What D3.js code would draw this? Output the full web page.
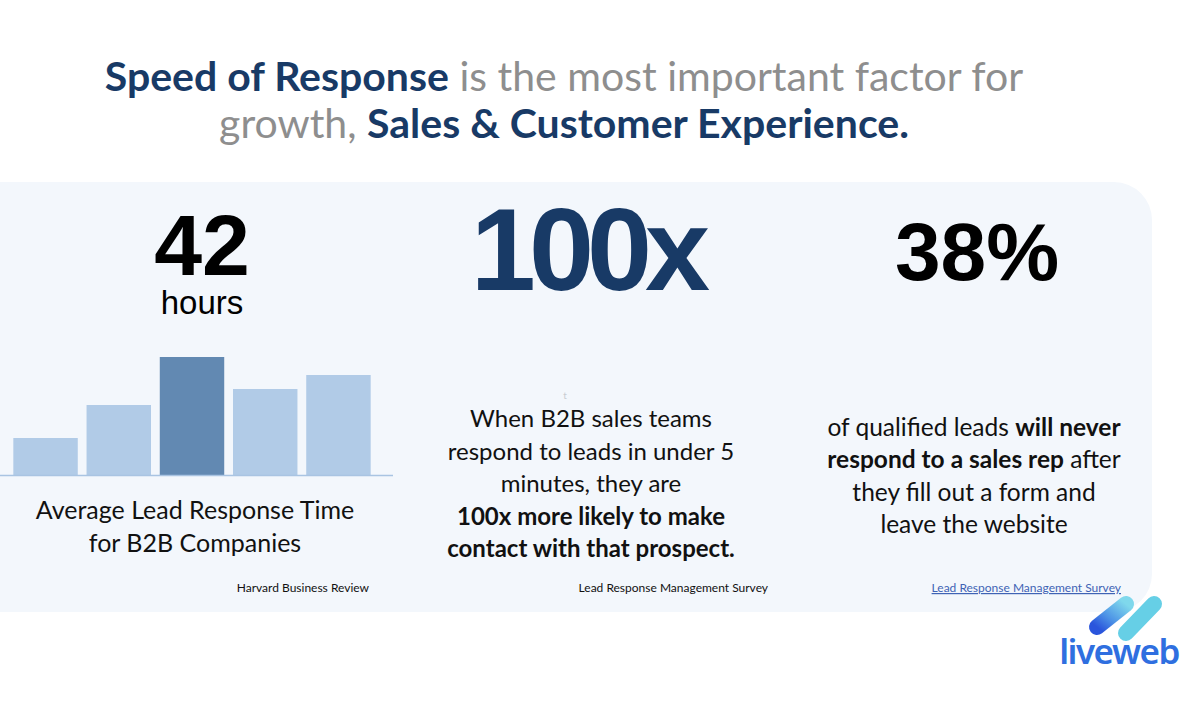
<!DOCTYPE html>
<html>
    <head>
        <script src="https://cdnjs.cloudflare.com/ajax/libs/d3/7.8.5/d3.min.js"></script>
        <title>Speed of Response</title>
        <style>
            html, body {
                height: 100%;
                margin: 0;
                background: #ffffff;
            }
            .svg_canvas {
                display: block;
                font-family: Lato, "Noto Sans", sans-serif;
            }
        </style>
    </head>
    <body>
        <svg width="1200" height="716" class="svg_canvas"></svg>

        <script>
            // bar chart under "42 hours" (relative heights)
            var barCategories = ["b1", "b2", "b3", "b4", "b5"];
            var barValues = [37, 70, 118, 86, 100];
            var barHighlight = "b3";

            var bigNumbers = ["42", "100x", "38%"];
            var sources = ["Harvard Business Review", "Lead Response Management Survey", "Lead Response Management Survey"];

            var navy = "#183a66";
            var grey = "#8e8e8e";

            var svg = d3.select(".svg_canvas");

            // ---- title ----
            var title = svg.append("text")
                .attr("text-anchor", "middle")
                .style("font-size", "41px");
            var t1 = title.append("tspan").attr("x", 564).attr("y", 91);
            t1.append("tspan").attr("font-weight", 700).attr("fill", navy).text("Speed of Response");
            t1.append("tspan").attr("fill", grey).text(" is the most important factor for");
            var t2 = title.append("tspan").attr("x", 564).attr("y", 138);
            t2.append("tspan").attr("fill", grey).text("growth, ");
            t2.append("tspan").attr("font-weight", 700).attr("fill", navy).text("Sales & Customer Experience.");

            // ---- panel ----
            svg.append("rect")
                .attr("x", -60).attr("y", 182)
                .attr("width", 1212).attr("height", 430)
                .attr("rx", 38)
                .attr("fill", "#f3f7fc");

            // ---- big numbers ----
            var first = svg.append("text")
                .attr("text-anchor", "middle")
                .style("font-family", "'Liberation Sans', Arial, sans-serif")
                .attr("fill", "#000");
            first.append("tspan")
                .attr("x", 202).attr("y", 275)
                .style("font-weight", 700)
                .style("font-size", "86px")
                .text(bigNumbers[0]);
            first.append("tspan")
                .attr("x", 202).attr("y", 314)
                .style("font-size", "33px")
                .text("hours");
            svg.append("text")
                .attr("x", 587).attr("y", 290)
                .attr("text-anchor", "middle")
                .style("font-family", "'Liberation Sans', Arial, sans-serif")
                .style("font-weight", 700)
                .style("font-size", "117px")
                .style("letter-spacing", "-7px")
                .attr("fill", navy)
                .text(bigNumbers[1]);
            svg.append("text")
                .attr("x", 977).attr("y", 280)
                .attr("text-anchor", "middle")
                .style("font-family", "'Liberation Sans', Arial, sans-serif")
                .style("font-weight", 700)
                .style("font-size", "82px")
                .attr("fill", "#000")
                .text(bigNumbers[2]);

            // ---- bar chart ----
            var x = d3.scaleBand()
                .domain(barCategories)
                .range([6, 378])
                .paddingInner(0.12)
                .paddingOuter(0.1);
            var y = d3.scaleLinear()
                .domain([0, 118])
                .range([475, 357]);

            svg.append("g")
                .selectAll("rect")
                .data(barValues)
                .enter()
                .append("rect")
                .attr("x", function(d, i){ return x(barCategories[i]); })
                .attr("y", function(d){ return y(d); })
                .attr("width", x.bandwidth())
                .attr("height", function(d){ return y(0) - y(d); })
                .attr("fill", function(d, i){
                    return barCategories[i] === barHighlight ? "#6289b2" : "#b1cbe7";
                });

            var xAxis = svg.append("g")
                .attr("transform", "translate(0," + y(0) + ")")
                .call(d3.axisBottom(x).tickSize(0).tickFormat(""));
            xAxis.select(".domain")
                .attr("d", "M0,0.5H393")
                .attr("stroke", "#a9c4e2")
                .attr("stroke-width", 1.5);

            // ---- body texts ----
            function lines(cx, y0, step, size, rows) {
                var t = svg.append("text")
                    .attr("text-anchor", "middle")
                    .style("font-size", size + "px")
                    .attr("fill", "#111");
                rows.forEach(function(row, i){
                    var line = t.append("tspan").attr("x", cx).attr("y", y0 + i * step);
                    row.forEach(function(part){
                        line.append("tspan")
                            .attr("font-weight", part[1] ? 700 : 400)
                            .text(part[0]);
                    });
                });
            }

            lines(195, 519, 33, 25, [
                [["Average Lead Response Time", false]],
                [["for B2B Companies", false]]
            ]);
            lines(591, 427, 32.5, 24, [
                [["When B2B sales teams", false]],
                [["respond to leads in under 5", false]],
                [["minutes, they are", false]],
                [["100x more likely to make", true]],
                [["contact with that prospect.", true]]
            ]);
            lines(974, 436, 32.3, 24.5, [
                [["of qualified leads ", false], ["will never", true]],
                [["respond to a sales rep", true], [" after", false]],
                [["they fill out a form and", false]],
                [["leave the website", false]]
            ]);

            // stray mark above the middle text
            svg.append("text")
                .attr("x", 565).attr("y", 399)
                .attr("text-anchor", "middle")
                .style("font-size", "10px")
                .attr("fill", "#c8ccd2")
                .text("t");

            // ---- sources ----
            svg.append("text")
                .attr("x", 369).attr("y", 592)
                .attr("text-anchor", "end")
                .style("font-size", "12px")
                .attr("fill", "#111")
                .text(sources[0]);
            svg.append("text")
                .attr("x", 768).attr("y", 592)
                .attr("text-anchor", "end")
                .style("font-size", "12px")
                .attr("fill", "#111")
                .text(sources[1]);
            svg.append("text")
                .attr("x", 1121).attr("y", 592)
                .attr("text-anchor", "end")
                .style("font-size", "12px")
                .style("text-decoration", "underline")
                .attr("fill", "#3f63b5")
                .text(sources[2]);

            // ---- logo ----
            var defs = svg.append("defs");
            var g1 = defs.append("linearGradient").attr("id", "lw1")
                .attr("x1", "0%").attr("y1", "100%").attr("x2", "100%").attr("y2", "0%");
            g1.append("stop").attr("offset", "0%").attr("stop-color", "#2a55dc");
            g1.append("stop").attr("offset", "40%").attr("stop-color", "#4c92e6");
            g1.append("stop").attr("offset", "100%").attr("stop-color", "#7fd8ec");

            var logo = svg.append("g").attr("transform", "translate(1090,597)");
            logo.append("line")
                .attr("x1", 7).attr("y1", 30).attr("x2", 36).attr("y2", 7)
                .attr("stroke", "url(#lw1)")
                .attr("stroke-width", 16)
                .attr("stroke-linecap", "round");
            logo.append("line")
                .attr("x1", 36).attr("y1", 36).attr("x2", 64).attr("y2", 7)
                .attr("stroke", "#66cfe6")
                .attr("stroke-width", 16)
                .attr("stroke-linecap", "round");

            svg.append("text")
                .attr("x", 1119).attr("y", 664)
                .attr("text-anchor", "middle")
                .style("font-family", "'Noto Sans', sans-serif")
                .style("font-weight", 600)
                .style("font-size", "35px")
                .style("letter-spacing", "-1.5px")
                .attr("fill", "#2f6fe0")
                .text("liveweb");
        </script>
    </body>
</html>
